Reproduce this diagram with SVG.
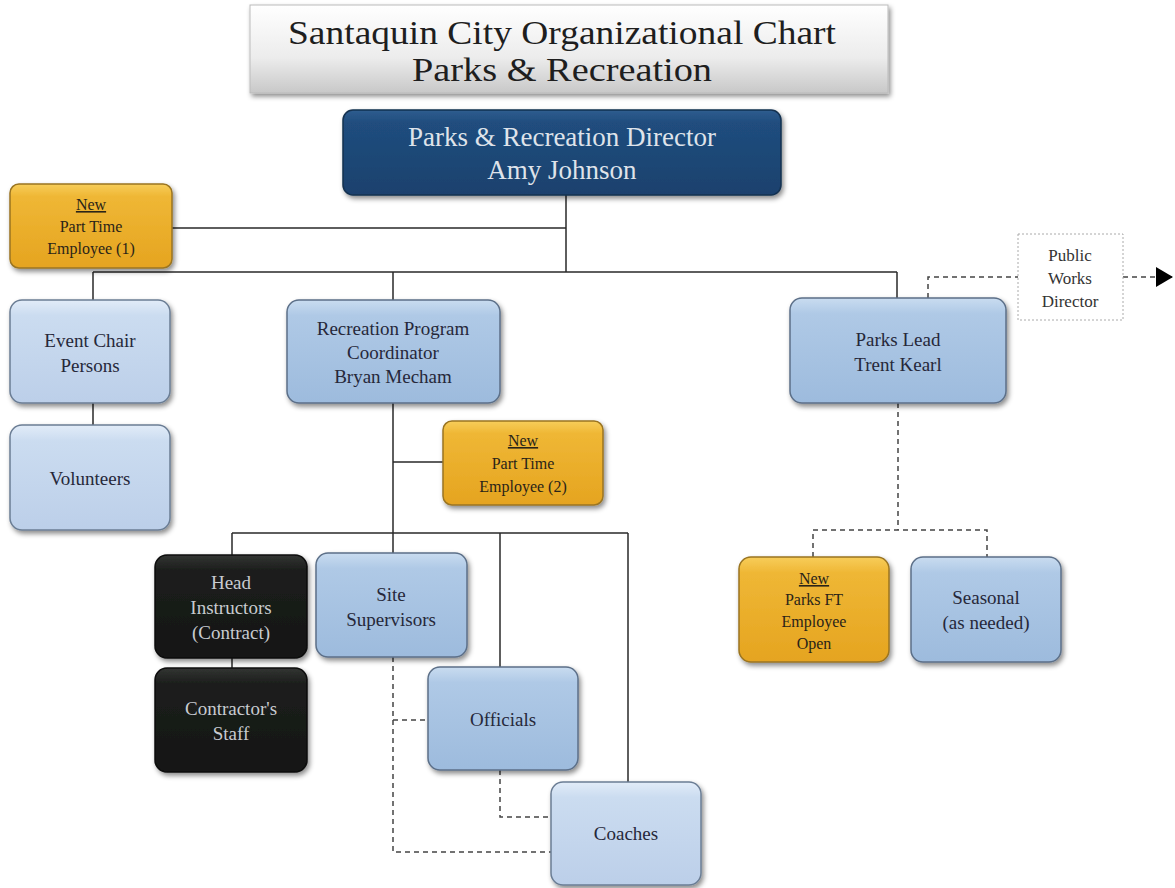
<svg xmlns="http://www.w3.org/2000/svg" width="1175" height="888" viewBox="0 0 1175 888">
<defs>
<linearGradient id="gTitle" x1="0" y1="0" x2="0" y2="1"><stop offset="0" stop-color="#ffffff"/><stop offset="0.6" stop-color="#ececec"/><stop offset="1" stop-color="#c8c8c8"/></linearGradient>
<linearGradient id="gDir" x1="0" y1="0" x2="0" y2="1"><stop offset="0" stop-color="#2f5d8f"/><stop offset="0.15" stop-color="#204d7e"/><stop offset="1" stop-color="#1a416d"/></linearGradient>
<linearGradient id="gBlue" x1="0" y1="0" x2="0" y2="1"><stop offset="0" stop-color="#c9dcf0"/><stop offset="0.15" stop-color="#afc9e6"/><stop offset="1" stop-color="#9dbbdd"/></linearGradient>
<linearGradient id="gLight" x1="0" y1="0" x2="0" y2="1"><stop offset="0" stop-color="#e2ecf8"/><stop offset="0.15" stop-color="#cbdcf0"/><stop offset="1" stop-color="#bccfe9"/></linearGradient>
<linearGradient id="gYel" x1="0" y1="0" x2="0" y2="1"><stop offset="0" stop-color="#f7cd5a"/><stop offset="0.15" stop-color="#efb735"/><stop offset="1" stop-color="#e5a420"/></linearGradient>
<linearGradient id="gBlk" x1="0" y1="0" x2="0" y2="1"><stop offset="0" stop-color="#333533"/><stop offset="0.15" stop-color="#1c1e1c"/><stop offset="1" stop-color="#141614"/></linearGradient>
<filter id="sh" x="-10%" y="-10%" width="125%" height="130%"><feDropShadow dx="2" dy="3" stdDeviation="2.5" flood-color="#000" flood-opacity="0.45"/></filter>
<marker id="arr" markerWidth="18" markerHeight="20" refX="16" refY="10" orient="auto" markerUnits="userSpaceOnUse"><path d="M0,0 L17,10 L0,20 z" fill="#000"/></marker>
</defs>
<style>
text{font-family:"Liberation Serif","DejaVu Serif",serif;text-anchor:middle}
.box{stroke-width:1.5;filter:url(#sh)}
.blue{fill:url(#gBlue);stroke:#5c6f88}
.light{fill:url(#gLight);stroke:#6b7d94}
.yel{fill:url(#gYel);stroke:#9a7420}
.blk{fill:url(#gBlk);stroke:#0a0a0a}
.t{font-size:19px;fill:#26283a}
.ts{font-size:16px;fill:#2a2418}
.tw{font-size:19px;fill:#c8cbd0}
.solid{fill:none;stroke:#2a2a2a;stroke-width:1.5}
.dash{fill:none;stroke:#444;stroke-width:1.5;stroke-dasharray:5,4}
</style>
<rect width="1175" height="888" fill="#ffffff"/>
<g id="connectors">
<path class="solid" d="M566,195 V272 M172,228 H566 M93,272 H897 M93,272 V300 M393,272 V300 M897,272 V298 M93,403 V425"/>
<path class="solid" d="M393,403 V553 M393,462 H443 M232,533 H628 M232,533 V555 M500,533 V667 M628,533 V782 M232,658 V668"/>
<path class="dash" d="M393,657 V852 H551 M393,720 H428 M500,770 V817 H551"/>
<path class="dash" d="M898,403 V530 M813,557 V530 H987 V557"/>
<path class="dash" d="M928,298 V277 H1018"/>
<path class="dash" d="M1123,277 H1172" marker-end="url(#arr)"/>
</g>
<g id="title">
<rect x="250" y="5" width="638" height="88" fill="url(#gTitle)" stroke="#bbbbbb" stroke-width="1" filter="url(#sh)"/>
<text x="562" y="44" textLength="548" lengthAdjust="spacingAndGlyphs" style="font-size:34px;fill:#1e1e1e">Santaquin City Organizational Chart</text>
<text x="562" y="81" textLength="300" lengthAdjust="spacingAndGlyphs" style="font-size:34px;fill:#1e1e1e">Parks &amp; Recreation</text>
</g>
<g id="director">
<rect class="box" x="343" y="110" width="438" height="85" rx="10" fill="url(#gDir)" stroke="#12304f"/>
<text x="562" y="146" style="font-size:27px;fill:#dfe3ea">Parks &amp; Recreation Director</text>
<text x="562" y="179" style="font-size:27px;fill:#dfe3ea">Amy Johnson</text>
</g>
<g id="pt1">
<rect class="box yel" x="10" y="184" width="162" height="84" rx="9"/>
<text class="ts" x="91" y="210" text-decoration="underline">New</text>
<text class="ts" x="91" y="232">Part Time</text>
<text class="ts" x="91" y="254">Employee (1)</text>
</g>
<g id="eventchair">
<rect class="box light" x="10" y="300" width="160" height="103" rx="12"/>
<text class="t" x="90" y="347">Event Chair</text>
<text class="t" x="90" y="372">Persons</text>
</g>
<g id="volunteers">
<rect class="box light" x="10" y="425" width="160" height="105" rx="12"/>
<text class="t" x="90" y="485">Volunteers</text>
</g>
<g id="reccoord">
<rect class="box blue" x="287" y="300" width="213" height="103" rx="12"/>
<text class="t" x="393" y="335">Recreation Program</text>
<text class="t" x="393" y="359">Coordinator</text>
<text class="t" x="393" y="383">Bryan Mecham</text>
</g>
<g id="pt2">
<rect class="box yel" x="443" y="421" width="160" height="84" rx="9"/>
<text class="ts" x="523" y="446" text-decoration="underline">New</text>
<text class="ts" x="523" y="469">Part Time</text>
<text class="ts" x="523" y="492">Employee (2)</text>
</g>
<g id="headinstr">
<rect class="box blk" x="155" y="555" width="152" height="103" rx="12"/>
<text class="tw" x="231" y="589">Head</text>
<text class="tw" x="231" y="614">Instructors</text>
<text class="tw" x="231" y="639">(Contract)</text>
</g>
<g id="contrstaff">
<rect class="box blk" x="155" y="668" width="152" height="104" rx="12"/>
<text class="tw" x="231" y="715">Contractor's</text>
<text class="tw" x="231" y="740">Staff</text>
</g>
<g id="sitesup">
<rect class="box blue" x="316" y="553" width="151" height="104" rx="12"/>
<text class="t" x="391" y="601">Site</text>
<text class="t" x="391" y="626">Supervisors</text>
</g>
<g id="officials">
<rect class="box blue" x="428" y="667" width="150" height="103" rx="12"/>
<text class="t" x="503" y="726">Officials</text>
</g>
<g id="coaches">
<rect class="box light" x="551" y="782" width="150" height="103" rx="12"/>
<text class="t" x="626" y="840">Coaches</text>
</g>
<g id="parkslead">
<rect class="box blue" x="790" y="298" width="216" height="105" rx="12"/>
<text class="t" x="898" y="346">Parks Lead</text>
<text class="t" x="898" y="371">Trent Kearl</text>
</g>
<g id="publicworks">
<rect x="1018" y="234" width="105" height="86" fill="#ffffff" stroke="#aaaaaa" stroke-width="1" stroke-dasharray="2,2"/>
<text x="1070" y="261" style="font-size:17px;fill:#333">Public</text>
<text x="1070" y="284" style="font-size:17px;fill:#333">Works</text>
<text x="1070" y="307" style="font-size:17px;fill:#333">Director</text>
</g>
<g id="parksft">
<rect class="box yel" x="739" y="557" width="150" height="105" rx="12"/>
<text class="ts" x="814" y="584" text-decoration="underline">New</text>
<text class="ts" x="814" y="605">Parks FT</text>
<text class="ts" x="814" y="627">Employee</text>
<text class="ts" x="814" y="649">Open</text>
</g>
<g id="seasonal">
<rect class="box blue" x="911" y="557" width="150" height="105" rx="12"/>
<text class="t" x="986" y="604">Seasonal</text>
<text class="t" x="986" y="629">(as needed)</text>
</g>
</svg>
